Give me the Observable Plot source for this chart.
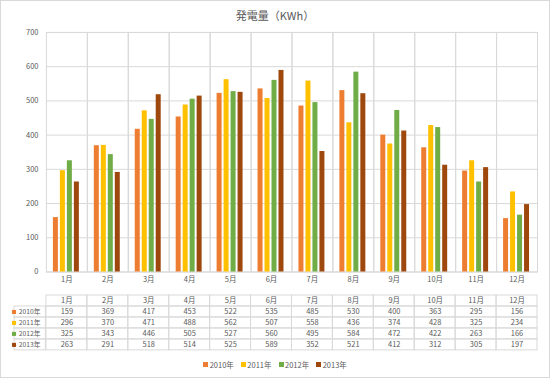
<!DOCTYPE html>
<html><head><meta charset="utf-8">
<script src="https://cdn.jsdelivr.net/npm/d3@7"></script>
<script src="https://cdn.jsdelivr.net/npm/@observablehq/plot@0.6"></script>
<style>
html,body{margin:0;padding:0;background:#fff;}
#chart{position:relative;width:550px;height:378px;box-sizing:border-box;border:1px solid #d9d9d9;font-family:"Noto Sans CJK JP","Noto Sans",sans-serif;color:#595959;overflow:hidden;background:#fff}
#title{position:absolute;top:6px;left:0;width:548px;text-align:center;font-size:11px;color:#595959;}
#main{position:absolute;left:-1px;top:-1px;}
#table{position:absolute;left:-1px;top:291px;}
#legend{position:absolute;left:0;width:548px;top:358px;display:flex;justify-content:center;gap:7px;font-size:7.5px;color:#595959;}
#legend .item{display:flex;align-items:center;gap:1.5px;}
#legend .sw{width:5px;height:5px;display:inline-block;}
</style>
</head><body>
<div id="chart">
  <div id="title"></div>
  <div id="main"></div>
  <div id="table"></div>
  <div id="legend"></div>
</div>
<script>
const titleText = "発電量（KWh）";
const months = ["1月","2月","3月","4月","5月","6月","7月","8月","9月","10月","11月","12月"];
const years = ["2010年","2011年","2012年","2013年"];
const colors = ["#ED7D31","#FFC000","#70AD47","#9E480E"];
const values2010 = [159,369,417,453,522,535,485,530,400,363,295,156];
const values2011 = [296,370,471,488,562,507,558,436,374,428,325,234];
const values2012 = [325,343,446,505,527,560,495,584,472,422,263,166];
const values2013 = [263,291,518,514,525,589,352,521,412,312,305,197];
const yTicks = [0,100,200,300,400,500,600,700];

const series = [values2010, values2011, values2012, values2013];
const data = [];
months.forEach((m, i) => years.forEach((y, j) => data.push({month: m, year: y, value: series[j][i]})));

document.getElementById("title").textContent = titleText;

const font = {fontFamily: '"Noto Sans CJK JP","Noto Sans",sans-serif', fontSize: "7.5px", color: "#595959", background: "transparent", overflow: "visible"};

const main = Plot.plot({
  width: 550, height: 292,
  marginTop: 32, marginBottom: 20, marginLeft: 42, marginRight: 9,
  style: font,
  fx: {domain: months, padding: 0, label: null, axis: "bottom", tickSize: 0, tickPadding: 5},
  x: {domain: years, paddingInner: 0.22, paddingOuter: 0.81, axis: null},
  y: {domain: [0, 700], ticks: yTicks, tickSize: 0, tickPadding: 8, label: null},
  color: {domain: years, range: colors},
  marks: [
    Plot.ruleY(yTicks, {y: d => d, stroke: "#d9d9d9"}),
    Plot.frame({stroke: "#d9d9d9"}),
    Plot.barY(data, {fx: "month", x: "year", y: "value", fill: "year"})
  ]
});
document.getElementById("main").appendChild(main);

const header = "header";
const table = Plot.plot({
  width: 550, height: 62,
  marginTop: 2, marginBottom: 2.5, marginLeft: 42, marginRight: 9,
  style: font,
  x: {domain: months, padding: 0, axis: null},
  y: {domain: [header, ...years], padding: 0, axis: null},
  color: {domain: years, range: colors},
  marks: [
    Plot.cell(months, {x: d => d, y: () => header, fill: "none", stroke: "#d9d9d9"}),
    Plot.cell(data, {x: "month", y: "year", fill: "none", stroke: "#d9d9d9"}),
    Plot.cell(years, {x: () => months[0], y: d => d, fill: "none", stroke: "#d9d9d9", insetLeft: -32, insetRight: 41.6}),
    Plot.text(months, {x: d => d, y: () => header, text: d => d, fill: "#595959"}),
    Plot.text(data, {x: "month", y: "year", text: d => String(d.value), fill: "#595959"}),
    Plot.text(years, {frameAnchor: "left", y: d => d, text: d => d, textAnchor: "end", dx: -2, fontSize: 6.8, fill: "#595959"}),
    Plot.dot(years, {frameAnchor: "left", y: d => d, fill: d => d, symbol: "square", r: 2.3, dx: -28.5})
  ]
});
document.getElementById("table").appendChild(table);

const legend = document.getElementById("legend");
years.forEach((y, i) => {
  const item = document.createElement("span");
  item.className = "item";
  const sw = document.createElement("span");
  sw.className = "sw";
  sw.style.background = colors[i];
  const t = document.createElement("span");
  t.textContent = y;
  item.appendChild(sw); item.appendChild(t);
  legend.appendChild(item);
});
</script>
</body></html>
